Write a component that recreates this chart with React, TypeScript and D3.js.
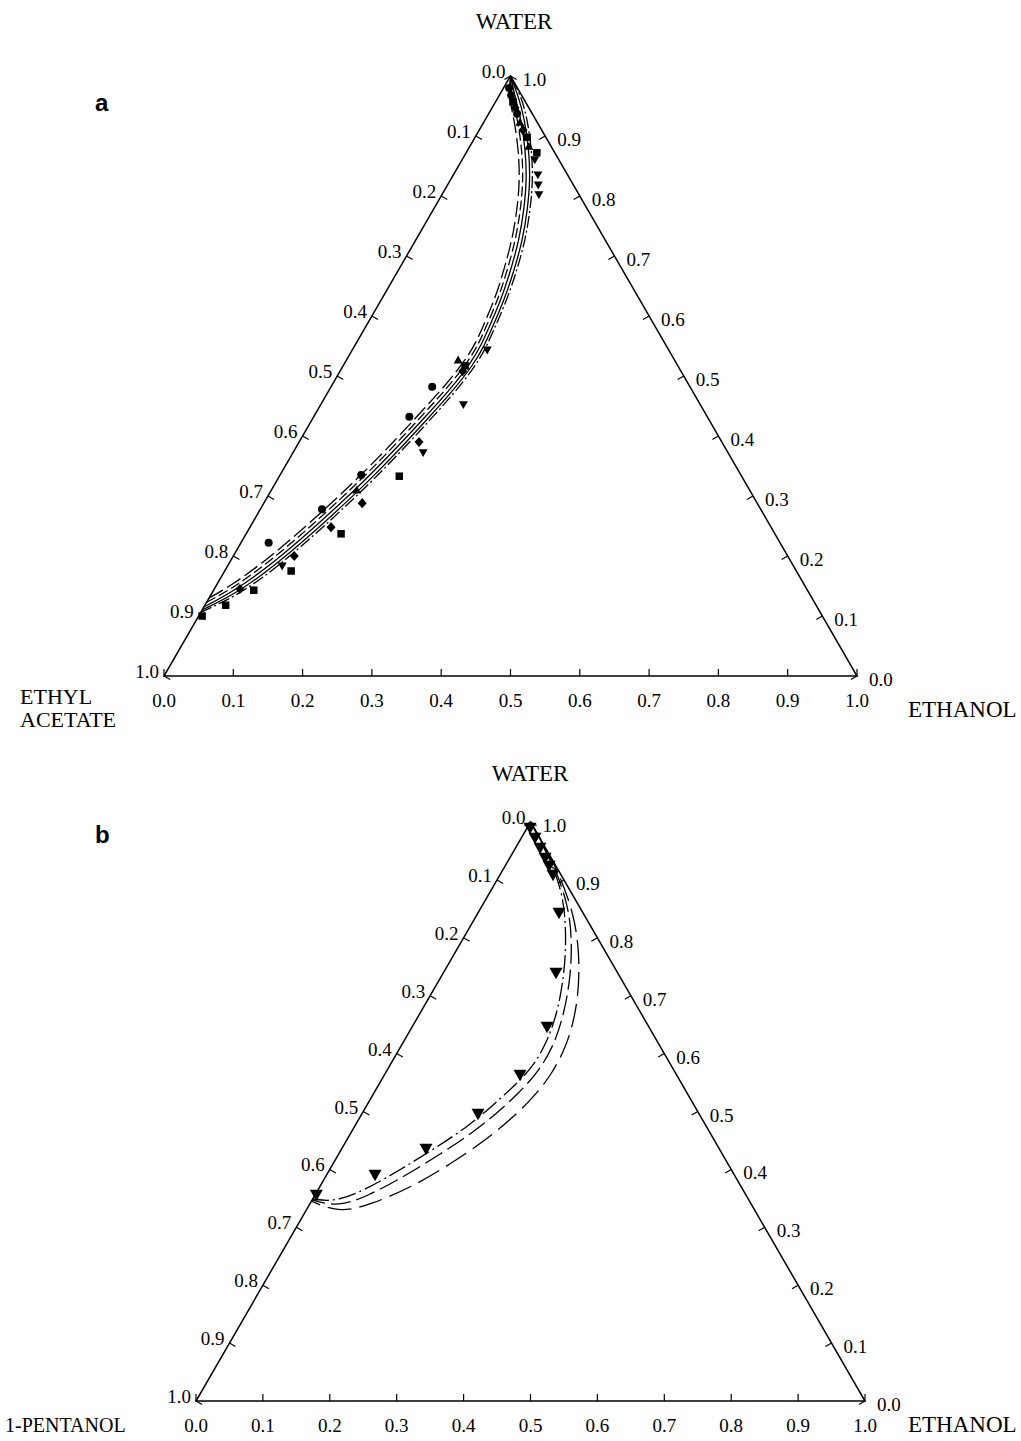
import React from "react";
import * as d3 from "d3";

// ---------- tick labels ----------
const tickValues = [0, 0.1, 0.2, 0.3, 0.4, 0.5, 0.6, 0.7, 0.8, 0.9, 1.0];
const tickLabels = ["0.0", "0.1", "0.2", "0.3", "0.4", "0.5", "0.6", "0.7", "0.8", "0.9", "1.0"];

// compositions are [water, ethanol] mass fractions (third component = 1 - both)

// ---------- panel a : water / ethanol / ethyl acetate ----------
const aCurveLongDash: [number, number][] = [
  [0.130, 0.0], [0.151, 0.022], [0.196, 0.053], [0.251, 0.081], [0.301, 0.103], [0.343, 0.120],
  [0.393, 0.137], [0.440, 0.151], [0.484, 0.164], [0.529, 0.172], [0.558, 0.172], [0.583, 0.169],
  [0.631, 0.163], [0.677, 0.152], [0.727, 0.139], [0.777, 0.121], [0.827, 0.100], [0.877, 0.073],
  [0.927, 0.042], [0.968, 0.013], [1.0, 0.0],
];
const aCurveDash: [number, number][] = [
  [0.123, 0.0], [0.147, 0.027], [0.192, 0.058], [0.247, 0.086], [0.297, 0.108], [0.339, 0.125],
  [0.389, 0.142], [0.436, 0.156], [0.481, 0.169], [0.526, 0.177], [0.555, 0.177], [0.580, 0.174],
  [0.629, 0.168], [0.677, 0.157], [0.727, 0.144], [0.777, 0.126], [0.827, 0.105], [0.877, 0.078],
  [0.927, 0.047], [0.968, 0.017], [1.0, 0.0],
];
const aCurveSolid1: [number, number][] = [
  [0.115, 0.0], [0.143, 0.032], [0.188, 0.063], [0.243, 0.091], [0.293, 0.113], [0.335, 0.130],
  [0.385, 0.147], [0.432, 0.161], [0.477, 0.174], [0.522, 0.182], [0.552, 0.182], [0.577, 0.179],
  [0.627, 0.173], [0.677, 0.162], [0.727, 0.149], [0.777, 0.131], [0.827, 0.110], [0.877, 0.083],
  [0.927, 0.052], [0.968, 0.022], [1.0, 0.0],
];
const aCurveSolid2: [number, number][] = [
  [0.110, 0.0], [0.139, 0.037], [0.184, 0.068], [0.239, 0.096], [0.289, 0.118], [0.331, 0.135],
  [0.381, 0.152], [0.428, 0.166], [0.474, 0.179], [0.519, 0.187], [0.550, 0.187], [0.575, 0.184],
  [0.625, 0.178], [0.677, 0.167], [0.727, 0.154], [0.777, 0.136], [0.827, 0.115], [0.877, 0.088],
  [0.927, 0.057], [0.968, 0.027], [1.0, 0.0],
];
const aCurveDashDot: [number, number][] = [
  [0.106, 0.0], [0.136, 0.041], [0.181, 0.072], [0.236, 0.100], [0.286, 0.122], [0.328, 0.139],
  [0.378, 0.156], [0.425, 0.170], [0.471, 0.183], [0.516, 0.191], [0.547, 0.191], [0.572, 0.188],
  [0.624, 0.182], [0.677, 0.171], [0.727, 0.158], [0.777, 0.140], [0.827, 0.119], [0.877, 0.092],
  [0.927, 0.061], [0.968, 0.031], [1.0, 0.0],
];

const aSquares: [number, number][] = [
  [0.100, 0.005], [0.118, 0.030], [0.143, 0.058], [0.175, 0.096], [0.237, 0.137], [0.333, 0.173],
  [0.517, 0.176], [0.957, 0.025], [0.898, 0.075], [0.872, 0.102],
];
const aDiamonds: [number, number][] = [
  [0.145, 0.037], [0.200, 0.088], [0.248, 0.117], [0.288, 0.142], [0.390, 0.173], [0.508, 0.177],
  [0.947, 0.033], [0.910, 0.063],
];
const aCircles: [number, number][] = [
  [0.222, 0.040], [0.278, 0.089], [0.335, 0.117], [0.432, 0.138], [0.482, 0.146],
  [0.980, 0.008], [0.968, 0.017], [0.937, 0.041],
];
const aDownTriangles: [number, number][] = [
  [0.183, 0.079], [0.372, 0.188], [0.452, 0.206], [0.543, 0.195],
  [0.860, 0.105], [0.835, 0.122], [0.818, 0.131], [0.802, 0.140],
];
const aUpTriangles: [number, number][] = [
  [0.310, 0.123], [0.527, 0.161], [0.923, 0.052], [0.883, 0.085],
];

// ---------- panel b : water / ethanol / 1-pentanol ----------
const bCurveDashDot: [number, number][] = [
  [1.0, 0.0], [0.9689, 0.0298], [0.9378, 0.0588], [0.9085, 0.0839], [0.8739, 0.1102], [0.8394, 0.1319],
  [0.7876, 0.1593], [0.7358, 0.1822], [0.6753, 0.2035], [0.6235, 0.2145], [0.5769, 0.2153],
  [0.5423, 0.2027], [0.5060, 0.1865], [0.4732, 0.1685], [0.4387, 0.1409], [0.3990, 0.1054],
  [0.3644, 0.0704], [0.3437, 0.0359], [0.3489, 0.0],
];
const bCurveDash: [number, number][] = [
  [1.0, 0.0], [0.9689, 0.0313], [0.9378, 0.0602], [0.9067, 0.0878], [0.8705, 0.1163], [0.8342, 0.1419],
  [0.7824, 0.1708], [0.7271, 0.1955], [0.6684, 0.2159], [0.6149, 0.2277], [0.5699, 0.2278],
  [0.5320, 0.2168], [0.4957, 0.2006], [0.4629, 0.1812], [0.4283, 0.1536], [0.3886, 0.1181],
  [0.3541, 0.0801], [0.3351, 0.0448], [0.3472, 0.0],
];
const bCurveLongDash: [number, number][] = [
  [1.0, 0.0], [0.9689, 0.0313], [0.9378, 0.0617], [0.9050, 0.0916], [0.8687, 0.1217], [0.8273, 0.1529],
  [0.7755, 0.1848], [0.7185, 0.2133], [0.6632, 0.2349], [0.6114, 0.2474], [0.5648, 0.2497],
  [0.5233, 0.2421], [0.4853, 0.2268], [0.4473, 0.2054], [0.4110, 0.1772], [0.3696, 0.1381],
  [0.3402, 0.0930], [0.3247, 0.0529], [0.3450, 0.0],
];
const bDownTriangles: [number, number][] = [
  [0.9896, 0.0045], [0.9724, 0.0205], [0.9551, 0.0367], [0.9378, 0.0528], [0.9240, 0.0657],
  [0.9085, 0.0794], [0.8428, 0.1212], [0.7392, 0.1685], [0.6460, 0.2017], [0.5630, 0.2028],
  [0.4957, 0.1737], [0.4352, 0.1262], [0.3903, 0.0725], [0.3558, 0.0020],
];

// ---------- drawing ----------
type Geo = { L: [number, number]; R: [number, number]; A: [number, number] };

const FONT = "'Liberation Serif', 'Times New Roman', serif";

function makeProjection(g: Geo) {
  const xs = d3.scaleLinear().domain([0, 1]).range([g.L[0], g.R[0]]);
  const ys = d3.scaleLinear().domain([0, 1]).range([g.L[1], g.A[1]]);
  return (w: number, e: number): [number, number] => [xs(e + w / 2), ys(w)];
}

function markerPath(kind: string, size: number): string {
  const s = size / 2;
  if (kind === "circle") return d3.symbol(d3.symbolCircle, Math.PI * s * s)() as string;
  if (kind === "square") return `M${-s},${-s}H${s}V${s}H${-s}Z`;
  if (kind === "diamond") return `M0,${-s * 1.2}L${s * 1.05},0L0,${s * 1.2}L${-s * 1.05},0Z`;
  if (kind === "down") return `M${-s},${-s * 0.8}L${s},${-s * 0.8}L0,${s * 0.95}Z`;
  return `M${-s},${s * 0.8}L${s},${s * 0.8}L0,${-s * 0.95}Z`;
}

function Ternary({
  geo, curves, markers, top, left, leftSize, right, panel, panelPos, topPos, leftPos, rightPos,
}: {
  geo: Geo;
  curves: { data: [number, number][]; dash: string; width?: number }[];
  markers: { data: [number, number][]; kind: string; size: number }[];
  top: string; left: string[]; leftSize: number; right: string; panel: string;
  panelPos: [number, number]; topPos: [number, number]; leftPos: [number, number]; rightPos: [number, number];
}) {
  const proj = makeProjection(geo);
  const line = d3
    .line<[number, number]>()
    .x((d) => proj(d[0], d[1])[0])
    .y((d) => proj(d[0], d[1])[1])
    .curve(d3.curveBasis);
  const tl = 7;
  const c30 = Math.cos(Math.PI / 6);
  return (
    <g>
      <polygon
        points={[geo.L, geo.R, geo.A].map((p) => p.join(",")).join(" ")}
        fill="none"
        stroke="#000"
        strokeWidth={1.5}
      />
      {tickValues.map((t, i) => {
        // bottom axis: ethanol fraction
        const [bx, by] = proj(0, t);
        // left axis: third component fraction (0 at apex)
        const [lx, ly] = proj(1 - t, 0);
        // right axis: water fraction
        const [rx, ry] = proj(t, 1 - t);
        return (
          <g key={i}>
            <line x1={bx} y1={by} x2={bx} y2={by - tl} stroke="#000" strokeWidth={1.2} />
            <line x1={lx} y1={ly} x2={lx + tl * c30} y2={ly + tl * 0.5} stroke="#000" strokeWidth={1.2} />
            <line x1={rx} y1={ry} x2={rx - tl * c30} y2={ry + tl * 0.5} stroke="#000" strokeWidth={1.2} />
            <text x={bx} y={by + 31} textAnchor="middle" fontFamily={FONT} fontSize={19}>
              {tickLabels[i]}
            </text>
            <text x={lx - 5} y={ly + 2} textAnchor="end" fontFamily={FONT} fontSize={19}>
              {tickLabels[i]}
            </text>
            <text x={rx + 12} y={ry + 10} textAnchor="start" fontFamily={FONT} fontSize={19}>
              {tickLabels[i]}
            </text>
          </g>
        );
      })}
      {curves.map((c, i) => (
        <path
          key={i}
          d={line(c.data) as string}
          fill="none"
          stroke="#000"
          strokeWidth={c.width ?? 1.3}
          strokeDasharray={c.dash}
        />
      ))}
      {markers.map((m, i) => (
        <g key={i}>
          {m.data.map((d, j) => {
            const [x, y] = proj(d[0], d[1]);
            return <path key={j} d={markerPath(m.kind, m.size)} transform={`translate(${x},${y})`} fill="#000" />;
          })}
        </g>
      ))}
      <text x={topPos[0]} y={topPos[1]} textAnchor="middle" fontFamily={FONT} fontSize={23}>
        {top}
      </text>
      {left.map((s, i) => (
        <text key={i} x={leftPos[0]} y={leftPos[1] + i * 23} fontFamily={FONT} fontSize={leftSize}>
          {s}
        </text>
      ))}
      <text x={rightPos[0]} y={rightPos[1]} fontFamily={FONT} fontSize={23}>
        {right}
      </text>
      <text x={panelPos[0]} y={panelPos[1]} fontFamily="'Liberation Sans', Arial, sans-serif" fontWeight="bold" fontSize={24}>
        {panel}
      </text>
    </g>
  );
}

export default function App() {
  const geoA: Geo = { L: [164, 676], R: [857, 676], A: [510.5, 76] };
  const geoB: Geo = { L: [196, 1401], R: [865, 1401], A: [530.5, 822] };
  return (
    <svg
      width={1021}
      height={1441}
      style={{ position: "absolute", left: 0, top: 0, background: "#fff" }}
    >
      <Ternary
        geo={geoA}
        curves={[
          { data: aCurveLongDash, dash: "16,5" },
          { data: aCurveDash, dash: "10,4" },
          { data: aCurveSolid1, dash: "" },
          { data: aCurveSolid2, dash: "" },
          { data: aCurveDashDot, dash: "12,3,2,3" },
        ]}
        markers={[
          { data: aSquares, kind: "square", size: 7.5 },
          { data: aDiamonds, kind: "diamond", size: 8.5 },
          { data: aCircles, kind: "circle", size: 8 },
          { data: aDownTriangles, kind: "down", size: 9 },
          { data: aUpTriangles, kind: "up", size: 9 },
        ]}
        top="WATER"
        left={["ETHYL", "ACETATE"]}
        leftSize={22}
        right="ETHANOL"
        panel="a"
        panelPos={[95, 111]}
        topPos={[514, 29]}
        leftPos={[20, 704]}
        rightPos={[908, 717]}
      />
      <Ternary
        geo={geoB}
        curves={[
          { data: bCurveDashDot, dash: "18,4,2,4" },
          { data: bCurveDash, dash: "20,6" },
          { data: bCurveLongDash, dash: "24,8" },
        ]}
        markers={[{ data: bDownTriangles, kind: "down", size: 13 }]}
        top="WATER"
        left={["1-PENTANOL"]}
        leftSize={20}
        right="ETHANOL"
        panel="b"
        panelPos={[95, 843]}
        topPos={[530, 781]}
        leftPos={[5, 1432]}
        rightPos={[908, 1432]}
      />
    </svg>
  );
}
